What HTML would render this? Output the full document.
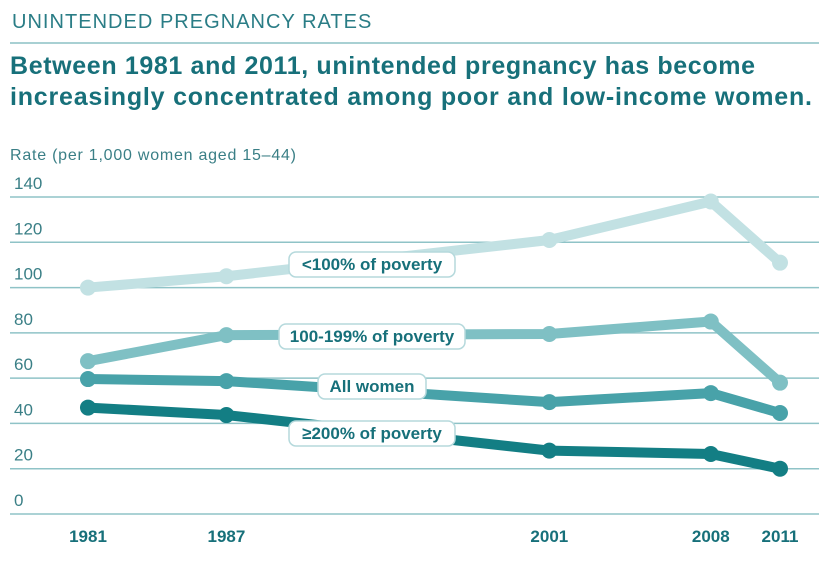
<!DOCTYPE html>
<html><head><meta charset="utf-8"><style>
body{margin:0;background:#fff;width:829px;height:563px;overflow:hidden;font-family:"Liberation Sans",sans-serif}
</style></head><body>
<svg width="829" height="563">
<text x="12" y="28" font-size="20" fill="#2a7d86" letter-spacing="0.6" textLength="360">UNINTENDED PREGNANCY RATES</text>
<line x1="10" y1="43" x2="819" y2="43" stroke="#a8d0d3" stroke-width="2"/>
<text x="10" y="74" font-size="25" font-weight="bold" fill="#17707a" textLength="745">Between 1981 and 2011, unintended pregnancy has become</text>
<text x="10" y="105" font-size="25" font-weight="bold" fill="#17707a" textLength="802">increasingly concentrated among poor and low-income women.</text>
<text x="10" y="160" font-size="16" fill="#3a7f86" textLength="286">Rate (per 1,000 women aged 15–44)</text>
<g id="grid"></g><g id="lines"></g><g id="labels"></g>
</svg>
<script>
const years=[1981,1987,2001,2008,2011];
const yTicks=[0,20,40,60,80,100,120,140];
const below100=[100,105,121,138,111];
const pov100to199=[67.5,79,79.5,85,58];
const allWomen=[59.6,58.7,49.4,53.4,44.6];
const above200=[47,43.7,28,26.5,20];
const seriesNames=["<100% of poverty","100-199% of poverty","All women","≥200% of poverty"];
const NS="http://www.w3.org/2000/svg";
const x=v=>88+(v-1981)*(780-88)/30;
const y=v=>514-v*(514-197)/140;
function mk(t,a,p){const e=document.createElementNS(NS,t);for(const k in a)e.setAttribute(k,a[k]);p.appendChild(e);return e;}
const grid=document.getElementById('grid');
yTicks.forEach(t=>{
 const l=mk('line',{x1:10,x2:819,y1:y(t),y2:y(t),stroke:'#8fc3c7','stroke-width':1.5},grid);
 
 
 const tx=mk('text',{x:14,y:y(t)-8,'font-size':17,fill:'#3a7f86'},grid);tx.textContent=t;
 
 
});
years.forEach(yr=>{
 const tx=mk('text',{x:x(yr),y:542,'font-size':17,'font-weight':'bold',fill:'#17707a','text-anchor':'middle'},grid);tx.textContent=yr;
 
 
});
const series=[below100,pov100to199,allWomen,above200];
const colors=['#c2e1e3','#7fc0c4','#48a2a9','#137e84'];
const slugs=['below-100','100-199','all-women','above-200'];
const lbl=[[372,264,166],[372,336,186],[372,386,108],[372,433,166]];
const lg=document.getElementById('lines'),lb=document.getElementById('labels');
series.forEach((s,i)=>{
 const g=mk('g',{},lg);
 
 
 const pl=mk('polyline',{points:s.map((v,j)=>x(years[j])+','+y(v)).join(' '),fill:'none',stroke:colors[i],'stroke-width':10,'stroke-linejoin':'round'},g);
 
 
 s.forEach((v,j)=>{const c=mk('circle',{cx:x(years[j]),cy:y(v),r:8,fill:colors[i]},g);
  
  });
 const [cx,cy,w]=lbl[i];
 const lgp=mk('g',{},lb);
 
 
 mk('rect',{x:cx-w/2,y:cy-12,width:w,height:25,rx:7,fill:'#fff',stroke:'#b5d9dc','stroke-width':1.5},lgp);
 const t=mk('text',{x:cx,y:cy+6,'font-size':17,'font-weight':'bold',fill:'#17707a','text-anchor':'middle'},lgp);t.textContent=seriesNames[i];
});
</script>
</body></html>
